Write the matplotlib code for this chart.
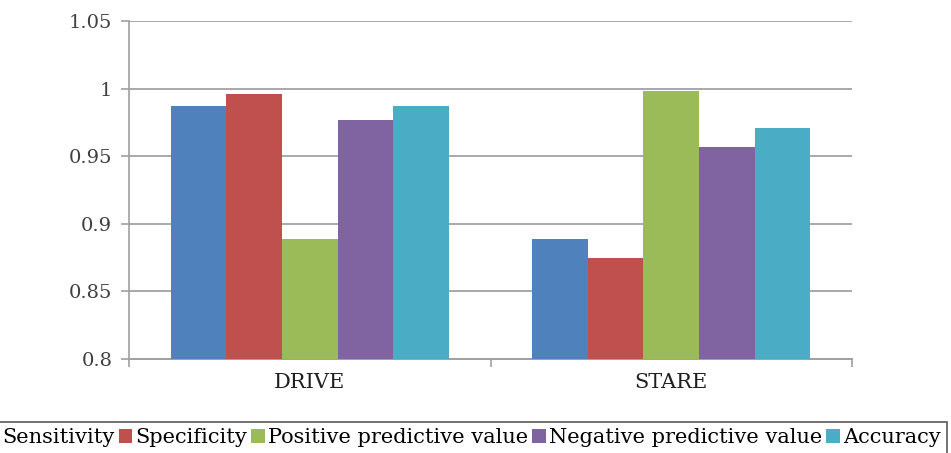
import numpy as np
import matplotlib.pyplot as plt
from matplotlib.patches import Patch

# data
datasets = ["DRIVE", "STARE"]
metrics = ["Sensitivity", "Specificity", "Positive predictive value",
           "Negative predictive value", "Accuracy"]
sensitivity = [0.987, 0.889]
specificity = [0.996, 0.875]
ppv = [0.889, 0.998]
npv = [0.9765, 0.957]
accuracy = [0.987, 0.971]
yticks = [0.8, 0.85, 0.9, 0.95, 1.0, 1.05]
ytick_labels = ["0.8", "0.85", "0.9", "0.95", "1", "1.05"]

colors = ["#4F81BD", "#C0504D", "#9BBB59", "#8064A2", "#4BACC6"]
series = [sensitivity, specificity, ppv, npv, accuracy]

plt.rcParams["font.family"] = ["DejaVu Serif"]

fig = plt.figure(figsize=(9.51, 4.53), dpi=100)
ax = fig.add_axes([129 / 951, 1 - 359 / 453, (852 - 129) / 951, (359 - 21) / 453])

x = np.arange(len(datasets))
width = 0.154
for i, (vals, c) in enumerate(zip(series, colors)):
    ax.bar(x + (i - 2) * width, vals, width, color=c, label=metrics[i], zorder=3)

ax.set_xlim(-0.5, 1.5)
ax.set_ylim(0.8, 1.05)
ax.set_yticks(yticks)
ax.set_yticklabels(ytick_labels, fontsize=14, color="#404040")
ax.set_xticks(x)
ax.set_xticklabels(datasets, fontsize=15, color="#202020")
ax.set_xticks([-0.5, 0.5, 1.5], minor=True)
ax.tick_params(axis="x", which="major", length=0, pad=10)
ax.tick_params(axis="x", which="minor", length=6, color="#A0A0A0", width=1.2)
ax.tick_params(axis="y", length=6, color="#A0A0A0", width=1.2, pad=6)
ax.grid(axis="y", color="#A8A8A8", linewidth=1.4, zorder=0)

for s in ["top", "right"]:
    ax.spines[s].set_visible(False)
ax.spines["left"].set_color("#A0A0A0")
ax.spines["bottom"].set_color("#A0A0A0")
ax.spines["left"].set_linewidth(1.2)
ax.spines["bottom"].set_linewidth(1.4)

# legend runs past the left edge, as in the reference
handles = [Patch(facecolor=c, edgecolor="none") for c in colors]
leg = fig.legend(handles, metrics, loc="upper right", bbox_to_anchor=(947 / 951, 1 - 422 / 453),
                 ncol=5, fontsize=15, frameon=True, fancybox=False,
                 handlelength=0.65, handleheight=0.65, handletextpad=0.15,
                 columnspacing=0.2, borderpad=0.3, borderaxespad=0)
leg.get_frame().set_edgecolor("#303030")
leg.get_frame().set_linewidth(1.2)

fig.savefig("out.png", dpi=100)
